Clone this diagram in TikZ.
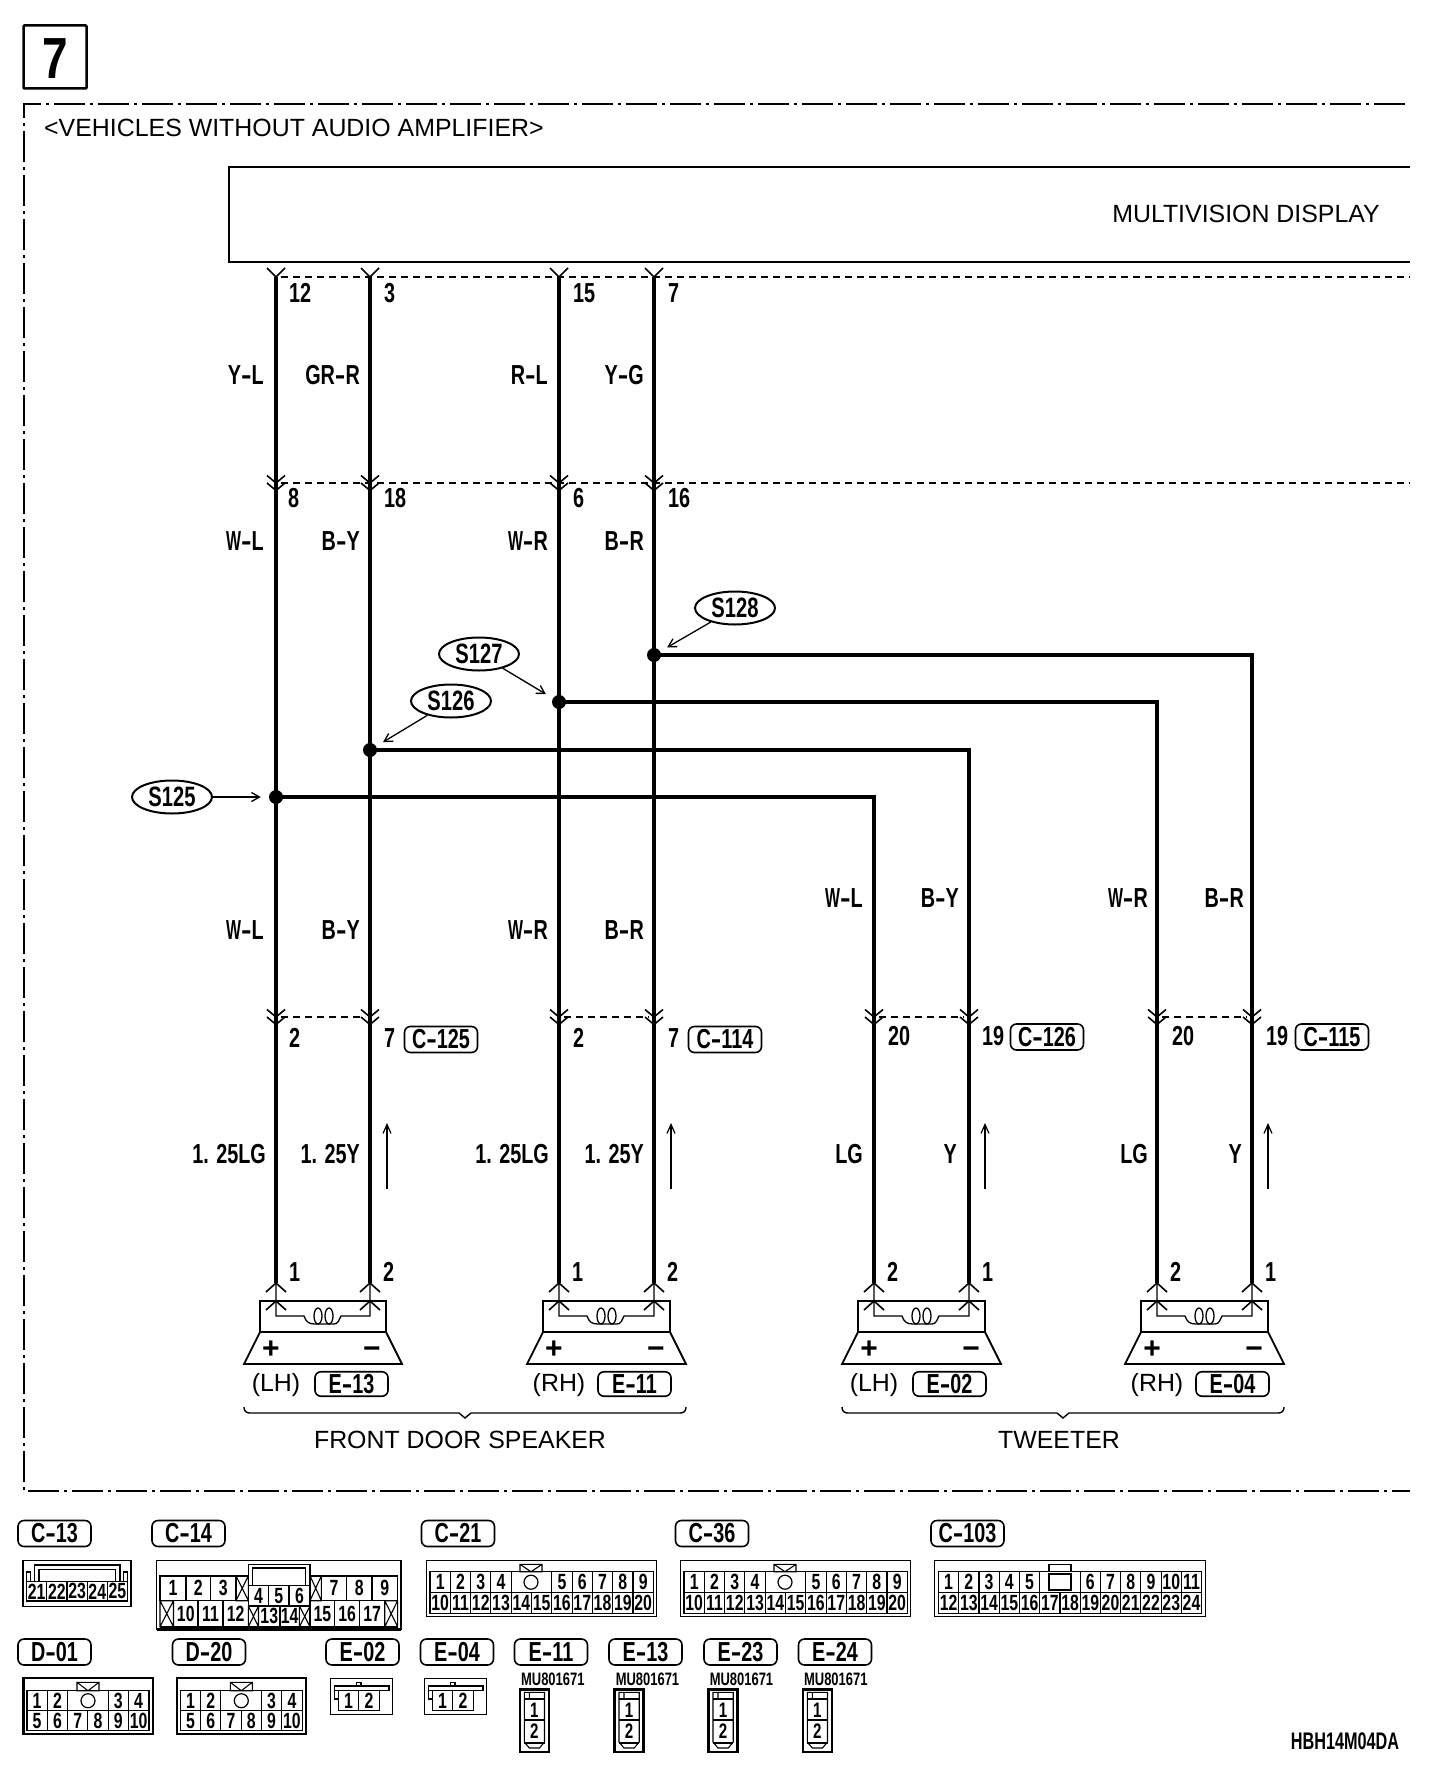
\documentclass[tikz,border=0pt]{standalone}
\usepackage{fontspec}
\setmainfont{Liberation Sans}
\newfontfamily\cf[FakeStretch=0.72]{Liberation Sans}
\usetikzlibrary{arrows.meta,shapes.geometric}
\newcommand\hy{\scalebox{1.6}[1]{-}}
\newcommand\WW{\scalebox{.8}[1]{W}}
\newcommand\fs[1]{\fontsize{#1}{#1}\selectfont}
\tikzset{
  x=1pt,y=-1pt,
  lab/.style={font=\cf\bfseries\fs{27.5},inner sep=0pt},
  plain/.style={font=\fs{24.9},inner sep=0pt},
  wire/.style={line width=3.8pt,line cap=butt},
  chev/.style={line width=1.6pt},
  dashy/.style={line width=1.6pt,dash pattern=on 7pt off 5pt},
  frame/.style={line width=1.8pt,dash pattern=on 31pt off 5pt on 3pt off 5pt},
  dot/.style={circle,fill=black,inner sep=0pt,minimum size=14pt},
  ell/.style={ellipse,draw,line width=2pt,inner sep=0pt,minimum width=80pt,minimum height=33pt,font=\cf\bfseries\fs{28}},
  callout/.style={line width=1.3pt,-{Straight Barb[length=8pt,width=9pt]},shorten >=8pt},
  flow/.style={line width=1.2pt,-{Straight Barb[length=9pt,width=8pt]}},
  tagbox/.style={draw,line width=1.6pt,rounded corners=6pt,inner sep=0pt,minimum width=73pt,minimum height=26pt,font=\cf\bfseries\fs{27.5}},
  cellnum/.style={inner sep=0pt,font=\cf\bfseries\fs{22}},
  smallnum/.style={inner sep=0pt,font=\cf\bfseries\fs{21}},
  cellline/.style={line width=1.1pt},
  outer/.style={line width=1.5pt},
}
% double chevrons pointing down / up
\newcommand\chevd[2]{\draw[chev] (#1-9,#2-7.5) -- (#1,#2) -- (#1+9,#2-7.5) (#1-9,#2) -- (#1,#2+7.5) -- (#1+9,#2);}
\newcommand\chevu[2]{\draw[chev] (#1-10,#2+9) -- (#1,#2) -- (#1+10,#2+9);}
% a row of equal cells: prefix, x0, ytop, ybot, width, list
\newcommand\crow[6]{\foreach \cellt [count=\ci from 0] in {#6}{
  \pgfmathsetmacro\xa{#2+\ci*#5}\pgfmathsetmacro\xb{#2+(\ci+1)*#5}
  \pgfmathsetmacro\xc{#2+(\ci+.5)*#5}\pgfmathsetmacro\yc{(#3+#4)/2}
  \draw[cellline] (\xa,#3) rectangle (\xb,#4);
  \node[cellnum] (#1\cellt) at (\xc,\yc) {\cellt};}}
% a single cell: label, x1,x2,y1,y2
\newcommand\ccell[5]{\draw[cellline] (#2,#4) rectangle (#3,#5);
  \pgfmathsetmacro\xc{(#2+#3)/2}\pgfmathsetmacro\yc{(#4+#5)/2}
  \node[cellnum] (cfn#1) at (\xc,\yc) {#1};}
\newcommand\xcell[4]{\draw[cellline] (#1,#3) rectangle (#2,#4) (#1,#3) -- (#2,#4) (#2,#3) -- (#1,#4);}
% tab with V
\newcommand\vtab[2]{\draw[cellline] (#1,1564.3+#2) rectangle (#1+22,1571.7+#2) (#1,1564.3+#2) -- (#1+11,1571.7+#2) -- (#1+22,1564.3+#2);}
% speaker
\newcommand\speaker[7]{\begin{scope}[shift={(#2,0)}]
  \coordinate (#1L) at (0,1283); \coordinate (#1R) at (#3,1283);
  \draw[line width=1.8pt] (-16,1301) rectangle (#3+16,1332);
  \draw[line width=1.8pt] (-16,1332) -- (-32,1364) -- (#3+32,1364) -- (#3+16,1332);
  \chevu{0}{1283}\chevu{0}{1301}\chevu{#3}{1283}\chevu{#3}{1301}
  \draw[line width=1.3pt] (#1L) -- (0,1316) -- (28,1316) .. controls (30,1322) and (33,1324) .. (39,1324) -- (58,1324) .. controls (62,1324) and (63,1320) .. (65,1316) -- (#3,1316) -- (#1R);
  \draw[line width=1.3pt] (42,1316) ellipse [x radius=4,y radius=8] (53,1316) ellipse [x radius=4,y radius=8];
  \node[font=\bfseries\fs{30},inner sep=0pt] (#1p) at (-5,1350) {+};
  \node[font=\bfseries\fs{30},inner sep=0pt] (#1m) at (#3+2,1353) {\symbol{"2212}};
  \node[plain] (#1s) at (0,1385) {#4};
  \node[tagbox,minimum height=24.5pt] (#1t) at (75.5,1384) {#5};
  \node[lab,anchor=west] (#1a) at (13,1272) {#6};
  \node[lab,anchor=west] (#1b) at (#3+13,1272) {#7};
\end{scope}}
% MU801671 two-pin connector
\newcommand\mini[2]{\begin{scope}[shift={(#2,0)}]
  \node[smallnum,font=\cf\bfseries\fs{18}] (#1c) at (552.8,1679) {MU801671};
  \draw[line width=2.4pt] (519.7,1689.3) rectangle (548.7,1751.7);
  \draw[cellline] (524.3,1692.3) -- (544.5,1692.3) -- (544.5,1742) -- (539.5,1748) -- (529.3,1748) -- (524.3,1742) -- cycle (529.3,1692.3) -- (529.3,1699.3);
  \draw[line width=2pt] (524.3,1699.3) -- (544.5,1699.3) (524.3,1720) -- (544.5,1720) (524.3,1743) -- (544.5,1743);
  \node[smallnum] (#1n) at (534.4,1710) {1};
  \node[smallnum] (#1o) at (534.4,1731.5) {2};
\end{scope}}
% E-02 style connector
\newcommand\twopin[2]{\begin{scope}[shift={(#2,0)}]
  \draw[outer] (330.6,1678.3) rectangle (392.6,1714.3);
  \draw[cellline] (356.3,1686) -- (356.3,1682.3) -- (361,1682.3) -- (361,1686);
  \draw[cellline] (338.4,1699) -- (334.7,1699) -- (334.7,1686) -- (389,1686) -- (389,1690.7) -- (379.2,1690.7);
  \draw[cellline] (338.4,1690.7) -- (334.7,1690.7);
  \draw[cellline] (338.4,1690.7) rectangle (358.8,1710.7) (358.8,1690.7) rectangle (379.2,1710.7);
  \node[cellnum] (#1a) at (348.6,1700.7) {1};
  \node[cellnum] (#1b) at (369,1700.7) {2};
\end{scope}}
\begin{document}
\begin{tikzpicture}
\useasboundingbox (0,0) rectangle (1440,1782);
% sheet number and frame
\node[draw,line width=2.5pt,inner sep=0pt,minimum size=63pt,rounded corners=1pt] (sheet) at (55,57) {};
\node[font=\cf\bfseries\fs{58},inner sep=0pt] (sheetn) at (55,59) {\scalebox{1.1}[1]{7}};
\coordinate (fTL) at (24,104); \coordinate (fTR) at (1405,104); \coordinate (fBL) at (24,1491); \coordinate (fBR) at (1410,1491);
\draw[frame] (fTR) -- (fTL) -- (fBL) -- (fBR);
\node[plain,anchor=west] (title) at (44,128) {<VEHICLES WITHOUT AUDIO AMPLIFIER>};
% module
\coordinate (mTR) at (1410,167); \coordinate (mTL) at (229,167); \coordinate (mBL) at (229,262); \coordinate (mBR) at (1410,262);
\draw[line width=1.8pt] (mTR) -- (mTL) -- (mBL) -- (mBR);
\node[plain,anchor=east] (mv) at (1380,214) {MULTIVISION DISPLAY};
% wires
\foreach \n/\xx in {1/276,2/370,3/559,4/654}{
  \coordinate (a\n) at (\xx,277);
  \coordinate (b\n) at (\xx,1283);
  \draw[wire] (a\n) -- (b\n);
  \draw[chev] (\xx-9,268) -- (\xx,277) -- (\xx+9,268);
  \chevd{\xx}{483}
  \chevd{\xx}{1017}
}
\foreach \n/\xx in {5/874,6/969,7/1157,8/1252}{
  \coordinate (b\n) at (\xx,1283);
  \chevd{\xx}{1017}
}
\draw[dashy] (281,277) -- (1410,277);
\draw[dashy] (281,483) -- (1410,483);
\draw[dashy] (281,1017) -- (365,1017);
\draw[dashy] (564,1017) -- (649,1017);
\draw[dashy] (879,1017) -- (964,1017);
\draw[dashy] (1162,1017) -- (1247,1017);
% junctions and branches
\node[dot] (j1) at (276,797) {};
\node[dot] (j2) at (370,750) {};
\node[dot] (j3) at (559,702) {};
\node[dot] (j4) at (654,655) {};
\draw[wire,line join=miter] (j1.center) -| (b5);
\draw[wire,line join=miter] (j2.center) -| (b6);
\draw[wire,line join=miter] (j3.center) -| (b7);
\draw[wire,line join=miter] (j4.center) -| (b8);
\node[ell] (s125) at (172,797) {S125};
\node[ell] (s126) at (451,701) {S126};
\node[ell] (s127) at (479,654) {S127};
\node[ell] (s128) at (735,608) {S128};
\draw[callout] (s125) -- (j1);
\draw[callout] (s126) -- (j2);
\draw[callout] (s127) -- (j3);
\draw[callout] (s128) -- (j4);
% upper labels
\node[lab,anchor=east] (l1) at (264,375) {Y\hy L};
\node[lab,anchor=east] (l2) at (360,375) {GR\hy R};
\node[lab,anchor=east] (l3) at (548,375) {R\hy L};
\node[lab,anchor=east] (l4) at (644,375) {Y\hy G};
\node[lab,anchor=west] (p1) at (289,293) {12};
\node[lab,anchor=west] (p2) at (384,293) {3};
\node[lab,anchor=west] (p3) at (573,293) {15};
\node[lab,anchor=west] (p4) at (668,293) {7};
\node[lab,anchor=west] (q1) at (288,498.5) {8};
\node[lab,anchor=west] (q2) at (384,498.5) {18};
\node[lab,anchor=west] (q3) at (573,498.5) {6};
\node[lab,anchor=west] (q4) at (668,498.5) {16};
\node[lab,anchor=east] (m1) at (264,541) {\WW\hy L};
\node[lab,anchor=east] (m2) at (360,541) {B\hy Y};
\node[lab,anchor=east] (m3) at (548,541) {\WW\hy R};
\node[lab,anchor=east] (m4) at (644,541) {B\hy R};
\node[lab,anchor=east] (n1) at (264,930) {\WW\hy L};
\node[lab,anchor=east] (n2) at (360,930) {B\hy Y};
\node[lab,anchor=east] (n3) at (548,930) {\WW\hy R};
\node[lab,anchor=east] (n4) at (644,930) {B\hy R};
\node[lab,anchor=east] (n5) at (863,898) {\WW\hy L};
\node[lab,anchor=east] (n6) at (959,898) {B\hy Y};
\node[lab,anchor=east] (n7) at (1148,898) {\WW\hy R};
\node[lab,anchor=east] (n8) at (1244,898) {B\hy R};
% connector pins
\node[lab,anchor=west] (r1) at (289,1038) {2};
\node[lab,anchor=west] (r2) at (384,1038) {7};
\node[lab,anchor=west] (r3) at (573,1038) {2};
\node[lab,anchor=west] (r4) at (668,1038) {7};
\node[lab,anchor=west] (r5) at (888,1036) {20};
\node[lab,anchor=west] (r6) at (982,1036) {19};
\node[lab,anchor=west] (r7) at (1172,1036) {20};
\node[lab,anchor=west] (r8) at (1266,1036) {19};
\node[tagbox] (t125) at (441,1039.5) {C\hy125};
\node[tagbox] (t114) at (725,1039.5) {C\hy114};
\node[tagbox] (t126) at (1047,1037) {C\hy126};
\node[tagbox] (t115) at (1332,1037) {C\hy115};
% colour codes
\node[lab,anchor=east] (k1) at (266,1154) {1. 25LG};
\node[lab,anchor=east] (k2) at (360,1154) {1. 25Y};
\node[lab,anchor=east] (k3) at (549,1154) {1. 25LG};
\node[lab,anchor=east] (k4) at (644,1154) {1. 25Y};
\node[lab,anchor=east] (k5) at (863,1154) {LG};
\node[lab,anchor=east] (k6) at (957,1154) {Y};
\node[lab,anchor=east] (k7) at (1148,1154) {LG};
\node[lab,anchor=east] (k8) at (1242,1154) {Y};
% flow arrows
\foreach \n/\xx in {1/387,2/671,3/985,4/1268}{
  \coordinate (fa\n) at (\xx,1189); \coordinate (fb\n) at (\xx,1123);
  \draw[flow] (fa\n) -- (fb\n);
}
% speakers
\speaker{sa}{276}{94}{(LH)}{E\hy13}{1}{2}
\speaker{sb}{559}{95}{(RH)}{E\hy11}{1}{2}
\speaker{sc}{874}{95}{(LH)}{E\hy02}{2}{1}
\speaker{sd}{1157}{95}{(RH)}{E\hy04}{2}{1}
% braces
\draw[line width=1.4pt] (244,1407) .. controls (244,1411) and (246,1413) .. (250,1413) -- (459,1413) -- (465,1418) -- (471,1413) -- (680,1413) .. controls (684,1413) and (686,1411) .. (686,1407);
\draw[line width=1.4pt] (842,1407) .. controls (842,1411) and (844,1413) .. (848,1413) -- (1057,1413) -- (1063,1418) -- (1069,1413) -- (1278,1413) .. controls (1282,1413) and (1284,1411) .. (1284,1407);
\node[plain] (fds) at (460,1440) {FRONT DOOR SPEAKER};
\node[plain] (twt) at (1059,1440) {TWEETER};
% legend tags
\node[tagbox] (tC13) at (54.5,1533.5) {C\hy13};
\node[tagbox] (tC14) at (188.5,1533.5) {C\hy14};
\node[tagbox] (tC21) at (458,1533.5) {C\hy21};
\node[tagbox] (tC36) at (712,1533.5) {C\hy36};
\node[tagbox] (tC103) at (967.5,1533.5) {C\hy103};
\node[tagbox] (tD01) at (54.5,1652) {D\hy01};
\node[tagbox] (tD20) at (209,1652) {D\hy20};
\node[tagbox] (tE02) at (362.5,1652) {E\hy02};
\node[tagbox] (tE04) at (457,1652) {E\hy04};
\node[tagbox] (tE11) at (551,1652) {E\hy11};
\node[tagbox] (tE13) at (645.5,1652) {E\hy13};
\node[tagbox] (tE23) at (740.5,1652) {E\hy23};
\node[tagbox] (tE24) at (835,1652) {E\hy24};
% C-13
\draw[outer] (23,1560.3) rectangle (131,1606.7);
\draw[cellline] (34.4,1581.7) -- (34.4,1565) -- (120,1565) -- (120,1581.7) (39,1581.7) -- (39,1569.5) -- (115.7,1569.5) -- (115.7,1581.7);
\draw[cellline] (26.6,1581.7) -- (26.6,1572) -- (30.8,1572) -- (30.8,1581.7) (123.4,1581.7) -- (123.4,1572) -- (127.6,1572) -- (127.6,1581.7);
\crow{a}{26.6}{1581.7}{1601}{20.2}{21,22,23,24,25}
% C-14
\draw[outer] (156.6,1560.3) rectangle (400.8,1629.5);
\draw[line width=2.8pt] (156.6,1629.5) -- (400.8,1629.5);
\draw[line width=1.6pt] (160,1575.7) -- (248.4,1575.7) (310,1575.7) -- (397.6,1575.7) (160,1626.7) -- (397.6,1626.7);
\draw[cellline] (248.4,1585.7) -- (248.4,1564.3) -- (310,1564.3) -- (310,1585.7);
\draw[cellline] (252.5,1568) rectangle (305.3,1585.7);
\ccell{1}{160}{186}{1575.7}{1600.7}
\ccell{2}{186}{210.7}{1575.7}{1600.7}
\ccell{3}{210.7}{236}{1575.7}{1600.7}
\xcell{236}{248.4}{1575.7}{1600.7}
\ccell{4}{248.4}{268.6}{1585.7}{1606}
\ccell{5}{268.6}{289}{1585.7}{1606}
\ccell{6}{289}{310}{1585.7}{1606}
\xcell{310}{321.4}{1575.7}{1600.7}
\ccell{7}{321.4}{346.6}{1575.7}{1600.7}
\ccell{8}{346.6}{372}{1575.7}{1600.7}
\ccell{9}{372}{397.6}{1575.7}{1600.7}
\xcell{160}{173.5}{1600.7}{1626.7}
\ccell{10}{173.5}{198}{1600.7}{1626.7}
\ccell{11}{198}{223}{1600.7}{1626.7}
\ccell{12}{223}{248.4}{1600.7}{1626.7}
\xcell{248.4}{258.5}{1606}{1626.7}
\ccell{13}{258.5}{280}{1606}{1626.7}
\ccell{14}{280}{299.4}{1606}{1626.7}
\xcell{299.4}{310}{1606}{1626.7}
\ccell{15}{310}{334.7}{1600.7}{1626.7}
\ccell{16}{334.7}{359.5}{1600.7}{1626.7}
\ccell{17}{359.5}{384.8}{1600.7}{1626.7}
\xcell{384.8}{397.6}{1600.7}{1626.7}
% C-21 and C-36
\foreach \pr/\dx in {b/0,c/254}{
  \begin{scope}[shift={(\dx,0)}]
  \draw[outer] (426.5,1560.3) rectangle (656.6,1616.7);
  \draw[line width=1.4pt] (430,1571.7) rectangle (653.4,1613.3);
  \crow{\pr}{430}{1571.7}{1592.7}{20.3}{1,2,3,4}
  \crow{\pr}{551.8}{1571.7}{1592.7}{20.3}{5,6,7,8,9}
  \crow{\pr}{430}{1592.7}{1613.3}{20.3}{10,11,12,13,14,15,16,17,18,19,20}
  \vtab{520}{0}
  \node[circle,draw,line width=1.2pt,inner sep=0pt,minimum size=14pt] (\pr o) at (531,1582.2) {};
  \end{scope}
}
% C-103
\draw[outer] (934.4,1560.3) rectangle (1205.3,1616.7);
\draw[line width=1.4pt] (938.5,1571.7) rectangle (1201.6,1613.3);
\crow{d}{938.5}{1571.7}{1592.7}{20.24}{1,2,3,4,5}
\crow{d}{1080.2}{1571.7}{1592.7}{20.24}{6,7,8,9,10,11}
\crow{e}{938.5}{1592.7}{1613.3}{20.24}{12,13,14,15,16,17,18,19,20,21,22,23,24}
\draw[cellline] (1049,1564.3) rectangle (1071,1571.7);
\draw[cellline] (1049,1574) rectangle (1071,1590);
\draw[line width=2pt] (1049,1590) -- (1071,1590);
% D-01, D-20
\foreach \pr/\dx in {f/0,g/153.3}{
  \begin{scope}[shift={(\dx,0)}]
  \draw[line width=2.2pt] (23.4,1678.3) rectangle (152.6,1734.3);
  \draw[line width=1.3pt] (27,1690.7) rectangle (149,1730.7);
  \crow{\pr}{27}{1690.7}{1710.7}{20.3}{1,2}
  \crow{\pr}{108.2}{1690.7}{1710.7}{20.3}{3,4}
  \crow{\pr}{27}{1710.7}{1730.7}{20.3}{5,6,7,8,9,10}
  \draw[cellline] (77,1682.3) rectangle (99,1690.7) (77,1682.3) -- (88,1690.7) -- (99,1682.3);
  \node[circle,draw,line width=1.2pt,inner sep=0pt,minimum width=14pt,minimum height=14pt] (\pr o) at (88,1700.7) {};
  \end{scope}
}
% E-02, E-04
\twopin{h}{0}
\twopin{i}{94}
% E-11 ... E-24
\mini{ja}{0}
\mini{jb}{94.7}
\mini{jc}{188.7}
\mini{jd}{283}
\node[lab,font=\cf\bfseries\fs{24}] (code) at (1345,1741) {\scalebox{.94}[1]{HBH14M04DA}};
\end{tikzpicture}
\end{document}
